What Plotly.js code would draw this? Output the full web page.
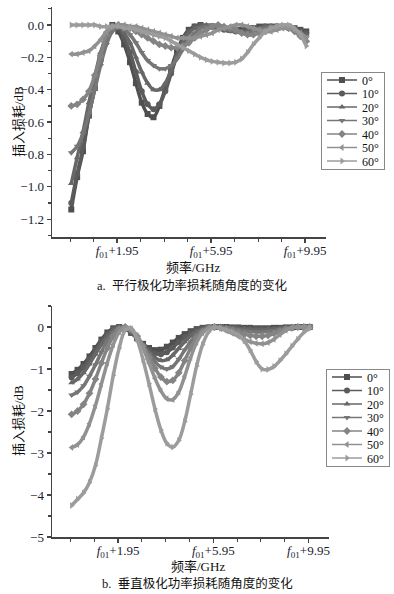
<!DOCTYPE html>
<html><head><meta charset="utf-8">
<script src="https://cdn.plot.ly/plotly-3.0.1.min.js"></script>
<style>html,body{margin:0;padding:0;background:#fff;}#chart{width:394px;height:594px;}</style>
</head><body><div id="chart"></div>
<script>
// frequency offset from f01 (GHz)
const freq = [0,0.25,0.5,0.75,1,1.25,1.5,1.75,2,2.25,2.5,2.75,3,3.25,3.5,3.75,4,4.25,4.5,4.75,5,5.25,5.5,5.75,6,6.25,6.5,6.75,7,7.25,7.5,7.75,8,8.25,8.5,8.75,9,9.25,9.5,9.75,10];
const angles = ['0°','10°','20°','30°','40°','50°','60°'];
const xTickVals = [1.95, 5.95, 9.95];
const xTickText = ['<i>f</i><sub>01</sub>+1.95','<i>f</i><sub>01</sub>+5.95','<i>f</i><sub>01</sub>+9.95'];

// a. parallel polarization insertion loss (dB)
const par0  = [-1.14,-0.94,-0.78,-0.56,-0.39,-0.2,-0.06,0,-0.04,-0.12,-0.23,-0.36,-0.48,-0.55,-0.57,-0.5,-0.39,-0.27,-0.16,-0.08,-0.03,-0.01,0,-0.01,-0.01,-0.02,-0.02,-0.03,-0.03,-0.03,-0.02,-0.02,-0.01,-0.01,-0.01,-0.01,-0.01,-0.01,-0.02,-0.03,-0.04];
const par10 = [-1.10,-0.92,-0.76,-0.56,-0.39,-0.22,-0.09,-0.02,-0.02,-0.08,-0.17,-0.29,-0.41,-0.49,-0.52,-0.49,-0.41,-0.30,-0.19,-0.10,-0.04,-0.01,0,-0.01,-0.01,-0.02,-0.03,-0.03,-0.04,-0.04,-0.03,-0.02,-0.02,-0.01,-0.01,-0.01,-0.01,-0.02,-0.03,-0.04,-0.05];
const par20 = [-0.98,-0.82,-0.66,-0.48,-0.32,-0.17,-0.07,-0.01,-0.01,-0.05,-0.11,-0.20,-0.29,-0.36,-0.40,-0.40,-0.36,-0.28,-0.19,-0.11,-0.05,-0.02,-0.01,0,-0.01,-0.02,-0.03,-0.04,-0.04,-0.04,-0.04,-0.03,-0.02,-0.01,-0.01,-0.01,-0.01,-0.02,-0.03,-0.05,-0.06];
const par30 = [-0.79,-0.75,-0.67,-0.55,-0.40,-0.25,-0.12,-0.04,-0.01,-0.02,-0.06,-0.11,-0.17,-0.22,-0.25,-0.27,-0.27,-0.25,-0.21,-0.15,-0.09,-0.05,-0.02,-0.01,0,-0.01,-0.02,-0.03,-0.04,-0.05,-0.05,-0.04,-0.03,-0.02,-0.01,-0.01,-0.01,-0.02,-0.04,-0.06,-0.08];
const par40 = [-0.50,-0.49,-0.46,-0.41,-0.31,-0.19,-0.06,-0.01,0,-0.01,-0.02,-0.04,-0.06,-0.08,-0.10,-0.12,-0.13,-0.14,-0.14,-0.13,-0.11,-0.08,-0.05,-0.03,-0.01,0,-0.01,-0.02,-0.03,-0.05,-0.06,-0.06,-0.05,-0.04,-0.02,-0.01,-0.01,-0.02,-0.04,-0.07,-0.10];
const par50 = [-0.18,-0.18,-0.17,-0.16,-0.13,-0.09,-0.04,-0.01,0,0,-0.01,-0.01,-0.02,-0.03,-0.04,-0.05,-0.06,-0.07,-0.08,-0.08,-0.08,-0.08,-0.07,-0.06,-0.05,-0.03,-0.02,-0.01,0,0,-0.01,-0.02,-0.03,-0.04,-0.04,-0.03,-0.02,-0.02,-0.03,-0.05,-0.08];
const par60 = [0,0,0,0,0,-0.01,-0.01,-0.01,-0.01,-0.02,-0.02,-0.03,-0.04,-0.05,-0.06,-0.07,-0.08,-0.10,-0.12,-0.14,-0.16,-0.18,-0.20,-0.215,-0.225,-0.23,-0.235,-0.235,-0.23,-0.21,-0.17,-0.12,-0.08,-0.04,-0.02,-0.01,0,0,-0.02,-0.06,-0.13];

// b. perpendicular polarization insertion loss (dB)
const per0  = [-1.12,-1.02,-0.88,-0.70,-0.50,-0.30,-0.13,-0.03,0,-0.04,-0.14,-0.27,-0.40,-0.50,-0.55,-0.54,-0.47,-0.37,-0.26,-0.17,-0.10,-0.05,-0.02,-0.01,0,0,0,-0.01,-0.01,-0.02,-0.02,-0.03,-0.03,-0.03,-0.02,-0.02,-0.01,-0.01,0,0,0];
const per10 = [-1.20,-1.10,-0.96,-0.77,-0.56,-0.35,-0.17,-0.05,0,-0.03,-0.13,-0.27,-0.42,-0.55,-0.63,-0.65,-0.60,-0.49,-0.36,-0.24,-0.14,-0.07,-0.03,-0.01,0,0,-0.01,-0.02,-0.03,-0.04,-0.05,-0.05,-0.05,-0.05,-0.04,-0.03,-0.02,-0.01,0,0,0];
const per20 = [-1.33,-1.24,-1.09,-0.88,-0.65,-0.42,-0.22,-0.08,-0.01,-0.02,-0.11,-0.26,-0.44,-0.60,-0.73,-0.80,-0.78,-0.67,-0.51,-0.35,-0.21,-0.11,-0.05,-0.02,0,-0.01,-0.01,-0.02,-0.04,-0.05,-0.06,-0.07,-0.07,-0.06,-0.05,-0.03,-0.02,-0.01,0,0,0];
const per30 = [-1.62,-1.55,-1.40,-1.17,-0.90,-0.60,-0.33,-0.13,-0.02,-0.01,-0.09,-0.24,-0.44,-0.65,-0.83,-0.95,-1.00,-0.94,-0.77,-0.55,-0.35,-0.18,-0.08,-0.02,0,-0.01,-0.02,-0.04,-0.07,-0.09,-0.11,-0.12,-0.12,-0.11,-0.09,-0.06,-0.03,-0.01,0,0,0];
const per40 = [-2.08,-2.00,-1.84,-1.58,-1.24,-0.86,-0.50,-0.22,-0.05,0,-0.07,-0.22,-0.45,-0.72,-0.98,-1.19,-1.30,-1.27,-1.09,-0.80,-0.50,-0.26,-0.11,-0.03,0,-0.01,-0.04,-0.08,-0.13,-0.17,-0.20,-0.22,-0.22,-0.20,-0.15,-0.10,-0.05,-0.02,0,0,0];
const per50 = [-2.87,-2.80,-2.62,-2.30,-1.87,-1.36,-0.85,-0.42,-0.12,-0.01,-0.04,-0.21,-0.50,-0.86,-1.22,-1.52,-1.71,-1.73,-1.55,-1.17,-0.73,-0.37,-0.14,-0.03,0,-0.04,-0.09,-0.15,-0.22,-0.29,-0.35,-0.39,-0.40,-0.37,-0.29,-0.18,-0.08,-0.02,0,0,0];
const per60 = [-4.25,-4.10,-3.95,-3.70,-3.30,-2.65,-1.95,-1.15,-0.50,-0.08,-0.03,-0.30,-0.78,-1.35,-1.95,-2.45,-2.77,-2.86,-2.70,-2.25,-1.60,-0.93,-0.42,-0.12,-0.01,-0.03,-0.07,-0.12,-0.19,-0.33,-0.55,-0.82,-1.00,-1.01,-0.94,-0.80,-0.64,-0.46,-0.29,-0.13,-0.03];

const parSeries = [par0,par10,par20,par30,par40,par50,par60];
const perSeries = [per0,per10,per20,per30,per40,per50,per60];
const colors = ['#4f4f4f','#5b5b5b','#676767','#767676','#848484','#919191','#9c9c9c'];
const symbols = ['square','circle','triangle-up','triangle-down','diamond','triangle-left','triangle-right'];

const serif = 'Liberation Serif, Times New Roman, serif';
const cjk = "Liberation Serif, 'Noto Sans CJK SC', serif";

const traces = [];
parSeries.forEach((ys, i) => traces.push({
  x: freq, y: ys, name: angles[i], type: 'scatter', mode: 'lines+markers',
  xaxis: 'x', yaxis: 'y', legend: 'legend',
  line: {color: colors[i], width: 3.5, shape: 'spline', smoothing: 1},
  marker: {symbol: symbols[i], size: 6, color: colors[i]}
}));
perSeries.forEach((ys, i) => traces.push({
  x: freq, y: ys, name: angles[i], type: 'scatter', mode: 'lines+markers',
  xaxis: 'x2', yaxis: 'y2', legend: 'legend2',
  line: {color: colors[i], width: 3.5, shape: 'spline', smoothing: 1},
  marker: {symbol: symbols[i], size: 6, color: colors[i]}
}));

const W = 394, H = 594;
const px = v => v / W, py = v => 1 - v / H;

const xCommon = {
  tickmode: 'array', tickvals: xTickVals, ticktext: xTickText,
  ticks: 'outside', ticklen: 4, tickwidth: 1.2, tickcolor: '#444', ticklabelstandoff: -3,
  showline: true, linecolor: '#444', linewidth: 1.5, showgrid: false, zeroline: false,
  tickfont: {family: serif, size: 13, color: '#1a1a2e'},
  minor: {tickmode: 'linear', tick0: -0.05, dtick: 1, ticks: 'outside', ticklen: 3, tickcolor: '#444', tickwidth: 1}
};
const yCommon = {
  ticks: 'outside', ticklen: 4, tickwidth: 1.2, tickcolor: '#444',
  showline: true, linecolor: '#444', linewidth: 1.5, showgrid: false, zeroline: false,
  tickfont: {family: serif, size: 13, color: '#1a1a2e'}
};
const legendCommon = {
  xanchor: 'left', yanchor: 'top', bgcolor: '#fff', bordercolor: '#888', borderwidth: 1,
  font: {family: serif, size: 12, color: '#111'}, itemwidth: 30, tracegroupgap: 0
};

const ann = (text, x, y, size, angle) => ({
  text, xref: 'paper', yref: 'paper', x: px(x), y: py(y), xanchor: 'center', yanchor: 'middle',
  showarrow: false, textangle: angle || 0, font: {family: cjk, size, color: '#111'}
});

const layout = {
  width: W, height: H, margin: {l: 0, r: 0, t: 0, b: 0},
  paper_bgcolor: '#fff', plot_bgcolor: '#fff', showlegend: true,
  xaxis: Object.assign({}, xCommon, {domain: [px(52), px(326)], range: [-0.82, 10.84], anchor: 'y'}),
  yaxis: Object.assign({}, yCommon, {domain: [py(237), py(7)], range: [-1.31, 0.111], anchor: 'x',
    tickmode: 'linear', tick0: 0, dtick: 0.2, tickformat: '.1f',
    minor: {tickmode: 'linear', tick0: 0, dtick: 0.1, ticks: 'outside', ticklen: 3, tickcolor: '#444'}}),
  xaxis2: Object.assign({}, xCommon, {domain: [px(52), px(329)], range: [-0.824, 10.81], anchor: 'y2'}),
  yaxis2: Object.assign({}, yCommon, {domain: [py(537), py(306)], range: [-5, 0.5], anchor: 'x2',
    tickmode: 'linear', tick0: 0, dtick: 1,
    minor: {tickmode: 'linear', tick0: 0, dtick: 0.5, ticks: 'outside', ticklen: 3, tickcolor: '#444'}}),
  legend: Object.assign({}, legendCommon, {x: px(321), y: py(72)}),
  legend2: Object.assign({}, legendCommon, {x: px(326), y: py(369)}),
  annotations: [
    ann('插入损耗/dB', 18, 122, 13, -90),
    ann('频率/GHz', 193, 267, 13),
    ann('a.  平行极化功率损耗随角度的变化', 192, 285, 12.5),
    ann('插入损耗/dB', 18, 421, 13, -90),
    ann('频率/GHz', 198, 566, 13),
    ann('b.  垂直极化功率损耗随角度的变化', 198, 583, 12.5)
  ]
};

Plotly.newPlot('chart', traces, layout, {staticPlot: true}).then(function () {
  // compact the legend rows to match the reference spacing
  document.querySelectorAll('g.legend, g.legend2').forEach(function (lg) {
    const items = lg.querySelectorAll('g.traces');
    const step = 13.5, top = 8;
    items.forEach(function (it, i) {
      const m = /translate\(\s*([-\d.]+)[\s,]+([-\d.]+)\s*\)/.exec(it.getAttribute('transform') || '');
      if (!m) return;
      it.setAttribute('transform', 'translate(' + m[1] + ',' + (top + i * step) + ')');
    });
    const hgt = top * 2 + (items.length - 1) * step;
    const bg = lg.querySelector('rect.bg');
    if (bg) bg.setAttribute('height', hgt);
    lg.querySelectorAll('path.js-line').forEach(function (p) { p.style.strokeWidth = '1.5px'; });
  });
});
</script>
</body></html>
